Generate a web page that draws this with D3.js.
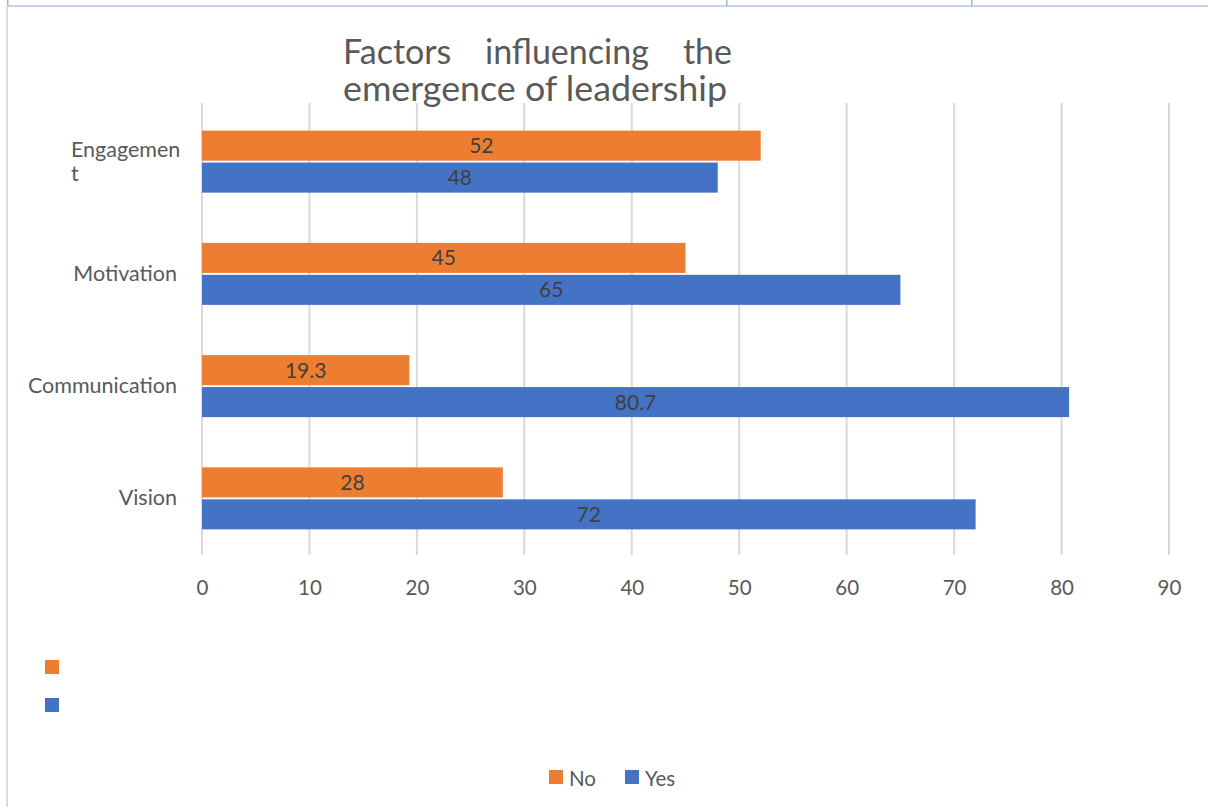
<!DOCTYPE html>
<html>
<head>
<meta charset="utf-8">
<script src="https://cdn.jsdelivr.net/npm/d3@7"></script>
<style>
  html, body { margin: 0; padding: 0; background: #fff; }
  svg { display: block; font-family: Lato, "Open Sans", sans-serif; }
</style>
</head>
<body>
<svg id="chart" width="1208" height="807"></svg>
<script>
// Survey responses per leadership factor (percent)
const categories = ["Engagement", "Motivation", "Communication", "Vision"];
const categoryLines = [["Engagemen", "t"], ["Motivation"], ["Communication"], ["Vision"]];
const noValues = [52, 45, 19.3, 28];
const yesValues = [48, 65, 80.7, 72];
const seriesNames = ["No", "Yes"];
const seriesColors = ["#ED7D31", "#4472C4"];
const tickValues = [0, 10, 20, 30, 40, 50, 60, 70, 80, 90];
const titleWords = ["Factors", "influencing", "the"];
const titleLine2 = "emergence of leadership";

const svg = d3.select("#chart");

// page frame: table borders above, grey rule at the left
svg.append("rect").attr("x", 7).attr("y", 5).attr("width", 1201).attr("height", 2).attr("fill", "#C9D3E8");
[7, 726, 971].forEach(x => {
  svg.append("rect").attr("x", x).attr("y", 0).attr("width", 1.5).attr("height", 6).attr("fill", "#9DB3E0");
});
svg.append("rect").attr("x", 6).attr("y", 7).attr("width", 2).attr("height", 800).attr("fill", "#DCDCDC");

const x = d3.scaleLinear().domain([0, 90]).range([202, 1169]);
const y = d3.scaleBand().domain(categories).range([105.5, 554.5]);
const mid = y.bandwidth() / 2;
const sub = d3.scaleBand().domain(seriesNames).range([mid - 31, mid + 31]).paddingInner(0.06);

// vertical gridlines
svg.append("g").selectAll("line").data(tickValues).join("line")
  .attr("x1", d => x(d)).attr("x2", d => x(d))
  .attr("y1", 103).attr("y2", 555)
  .attr("stroke", "#D9D9D9").attr("stroke-width", 2);

// x axis tick labels
const axis = d3.axisBottom(x).tickValues(tickValues).tickSize(0).tickPadding(0);
const ax = svg.append("g").attr("transform", "translate(0,595)").call(axis);
ax.select(".domain").remove();
ax.selectAll("text").attr("font-size", 20.5).attr("fill", "#595959")
  .attr("font-family", "Lato, 'Open Sans', sans-serif").attr("dy", 0);

// category labels
const catG = svg.append("g");
categories.forEach((c, i) => {
  const lines = categoryLines[i];
  const cy = y(c) + mid;
  const t = catG.append("text")
    .attr("font-size", 21.5).attr("fill", "#595959");
  if (lines.length > 1) {
    lines.forEach((l, j) => {
      t.append("tspan").attr("x", 71).attr("y", cy + 7 + (j - 0.5) * 24).text(l);
    });
  } else {
    t.attr("x", 177).attr("y", cy + 7).attr("text-anchor", "end").text(lines[0]);
  }
});

// bars and value labels
const series = [noValues, yesValues];
series.forEach((vals, s) => {
  const g = svg.append("g");
  g.selectAll("rect").data(vals).join("rect")
    .attr("x", x(0))
    .attr("y", (d, i) => y(categories[i]) + sub(seriesNames[s]))
    .attr("width", d => x(d) - x(0))
    .attr("height", sub.bandwidth())
    .attr("fill", seriesColors[s]);
  g.selectAll("text").data(vals).join("text")
    .attr("x", d => (x(0) + x(d)) / 2)
    .attr("y", (d, i) => y(categories[i]) + sub(seriesNames[s]) + sub.bandwidth() / 2 + 7.5)
    .attr("text-anchor", "middle")
    .attr("font-size", 21).attr("fill", "#404040")
    .text(d => d);
});

// title, first line justified across the width of the second
const title = svg.append("g").attr("fill", "#595959").attr("font-size", 34);
const t1 = title.append("text").attr("y", 64);
t1.append("tspan").attr("x", 343).text(titleWords[0]);
t1.append("tspan").attr("x", 485).text(titleWords[1]);
title.append("text").attr("x", 732).attr("y", 64).attr("text-anchor", "end").text(titleWords[2]);
title.append("text").attr("x", 343).attr("y", 101)
  .attr("textLength", 384).attr("lengthAdjust", "spacingAndGlyphs").text(titleLine2);

// stray legend swatches at the left
seriesColors.forEach((c, i) => {
  svg.append("rect").attr("x", 45).attr("y", 660 + i * 38).attr("width", 14).attr("height", 14).attr("fill", c);
});

// bottom legend
const leg = svg.append("g");
const legX = [549, 625];
seriesNames.forEach((n, i) => {
  leg.append("rect").attr("x", legX[i]).attr("y", 770).attr("width", 14).attr("height", 14).attr("fill", seriesColors[i]);
  leg.append("text").attr("x", legX[i] + 20).attr("y", 786).attr("font-size", 20.5).attr("fill", "#595959").text(n);
});
</script>
</body>
</html>
